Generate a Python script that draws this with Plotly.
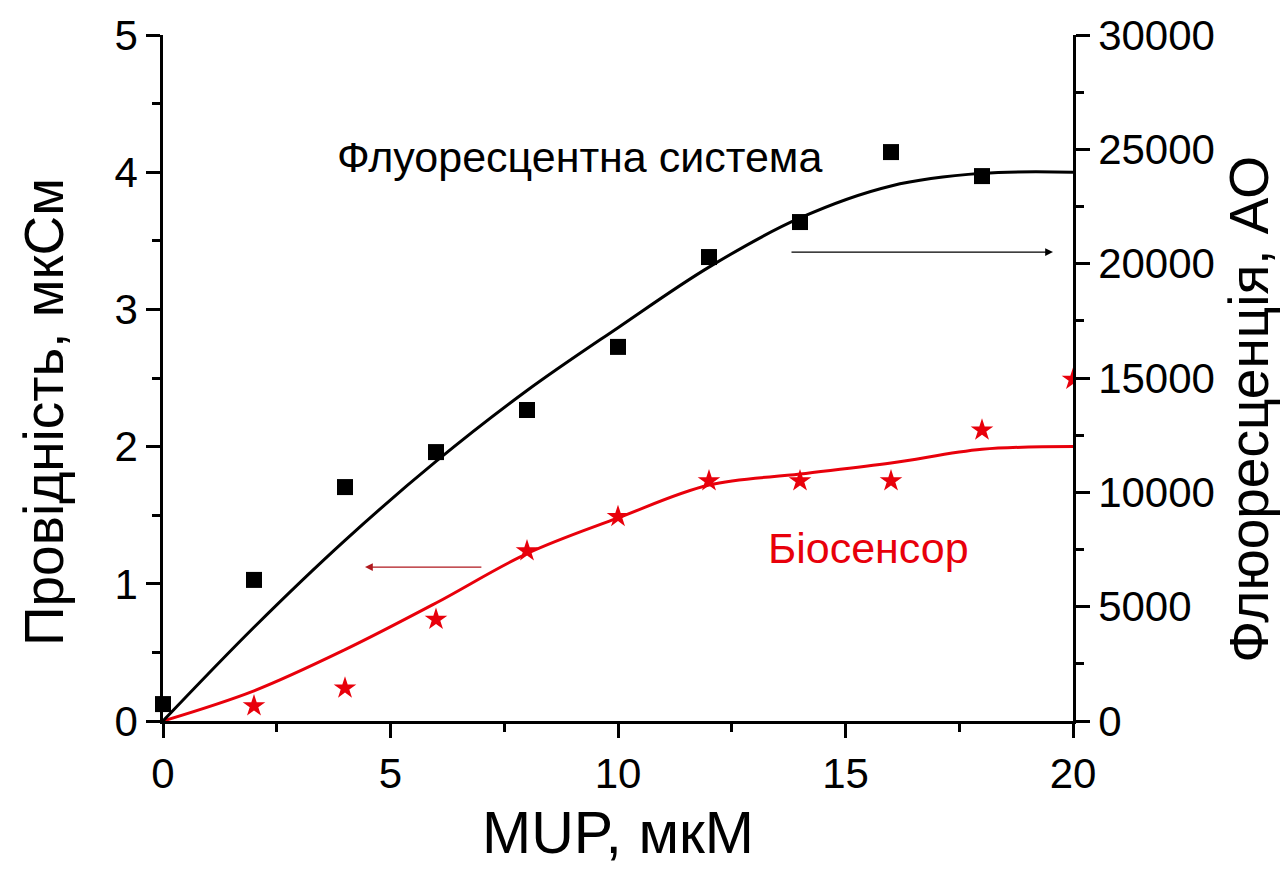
import plotly.graph_objects as go

# MUP concentration, µM
mup = [0, 2, 4, 6, 8, 10, 12, 14, 16, 18, 20]

# Fluorescence system (right axis, arbitrary units)
fluo_x = [0, 2, 4, 6, 8, 10, 12, 14, 16, 18]
fluo_y = [740, 6170, 10230, 11760, 13600, 16360, 20290, 21820, 24880, 23830]
fluo_fit = [0, 4100, 7900, 11350, 14450, 17200, 19850, 22000, 23400, 23950, 24000]

# Biosensor conductance (left axis, µS)
bio_x = [2, 4, 6, 8, 10, 12, 14, 16, 18, 20]
bio_y = [0.11, 0.24, 0.74, 1.24, 1.49, 1.75, 1.75, 1.75, 2.12, 2.49]
bio_fit = [0, 0.22, 0.52, 0.86, 1.22, 1.48, 1.72, 1.80, 1.88, 1.98, 2.0]

FONT = "Liberation Sans, Arial, sans-serif"
RED = "#e8000b"

fig = go.Figure()

fig.add_trace(go.Scatter(x=mup, y=fluo_fit, yaxis="y2", mode="lines",
                         line=dict(color="black", width=3, shape="spline"),
                         showlegend=False, hoverinfo="skip"))
fig.add_trace(go.Scatter(x=fluo_x, y=fluo_y, yaxis="y2", mode="markers",
                         marker=dict(symbol="square", size=16, color="black"),
                         cliponaxis=False, showlegend=False))
fig.add_trace(go.Scatter(x=mup, y=bio_fit, mode="lines",
                         line=dict(color=RED, width=3, shape="spline"),
                         showlegend=False, hoverinfo="skip"))
fig.add_trace(go.Scatter(x=bio_x, y=bio_y, mode="markers",
                         marker=dict(symbol="star", size=17, color=RED),
                         showlegend=False))

axis_common = dict(showgrid=False, zeroline=False, showline=True,
                   linecolor="black", linewidth=2.5, ticks="outside",
                   ticklen=14, tickwidth=2.5, tickcolor="black", automargin=False,
                   tickfont=dict(family=FONT, size=42, color="black"))

title_font = dict(family=FONT, size=55, color="black")

fig.update_layout(
    width=1285, height=869,
    margin=dict(l=163, r=212, t=35, b=148),
    paper_bgcolor="white", plot_bgcolor="white",
    xaxis=dict(range=[0, 20], dtick=5, **axis_common,
               minor=dict(dtick=2.5, ticks="outside", ticklen=8,
                          tickwidth=2.5, tickcolor="black"),
               title=dict(text="MUP, мкМ", font=dict(family=FONT, size=59, color="black"),
                          standoff=16)),
    yaxis=dict(range=[0, 5], dtick=1, **axis_common,
               minor=dict(dtick=0.5, ticks="outside", ticklen=8,
                          tickwidth=2.5, tickcolor="black")),
    yaxis2=dict(range=[0, 30000], dtick=5000, tickformat="d", overlaying="y",
                side="right", anchor="x", **axis_common,
                minor=dict(dtick=2500, ticks="outside", ticklen=8,
                           tickwidth=2.5, tickcolor="black")),
    annotations=[
        # vertical axis titles
        dict(x=-0.1308, y=0.4504, xref="paper", yref="paper",
             text="Провідність, мкСм", textangle=-90, showarrow=False,
             xanchor="center", yanchor="middle", font=title_font),
        dict(x=1.193, y=0.4548, xref="paper", yref="paper",
             text="Флюоресценція, АО", textangle=-90, showarrow=False,
             xanchor="center", yanchor="middle", font=title_font),
        # series labels
        dict(x=9.16, y=4.11, xref="x", yref="y", text="Флуоресцентна система",
             showarrow=False, font=dict(family=FONT, size=43, color="black")),
        dict(x=15.5, y=1.26, xref="x", yref="y", text="Біосенсор",
             showarrow=False, font=dict(family=FONT, size=43, color=RED)),
        # arrows pointing to the axis each series belongs to
        dict(x=19.56, y=3.418, ax=13.78, ay=3.418, xref="x", yref="y",
             axref="x", ayref="y", text="", showarrow=True, arrowhead=2,
             arrowsize=1.3, arrowwidth=1.2, arrowcolor="black"),
        dict(x=4.44, y=1.122, ax=7.03, ay=1.122, xref="x", yref="y",
             axref="x", ayref="y", text="", showarrow=True, arrowhead=2,
             arrowsize=1.3, arrowwidth=1.2, arrowcolor="#b0191e"),
    ],
)

fig.write_html("out.html")
